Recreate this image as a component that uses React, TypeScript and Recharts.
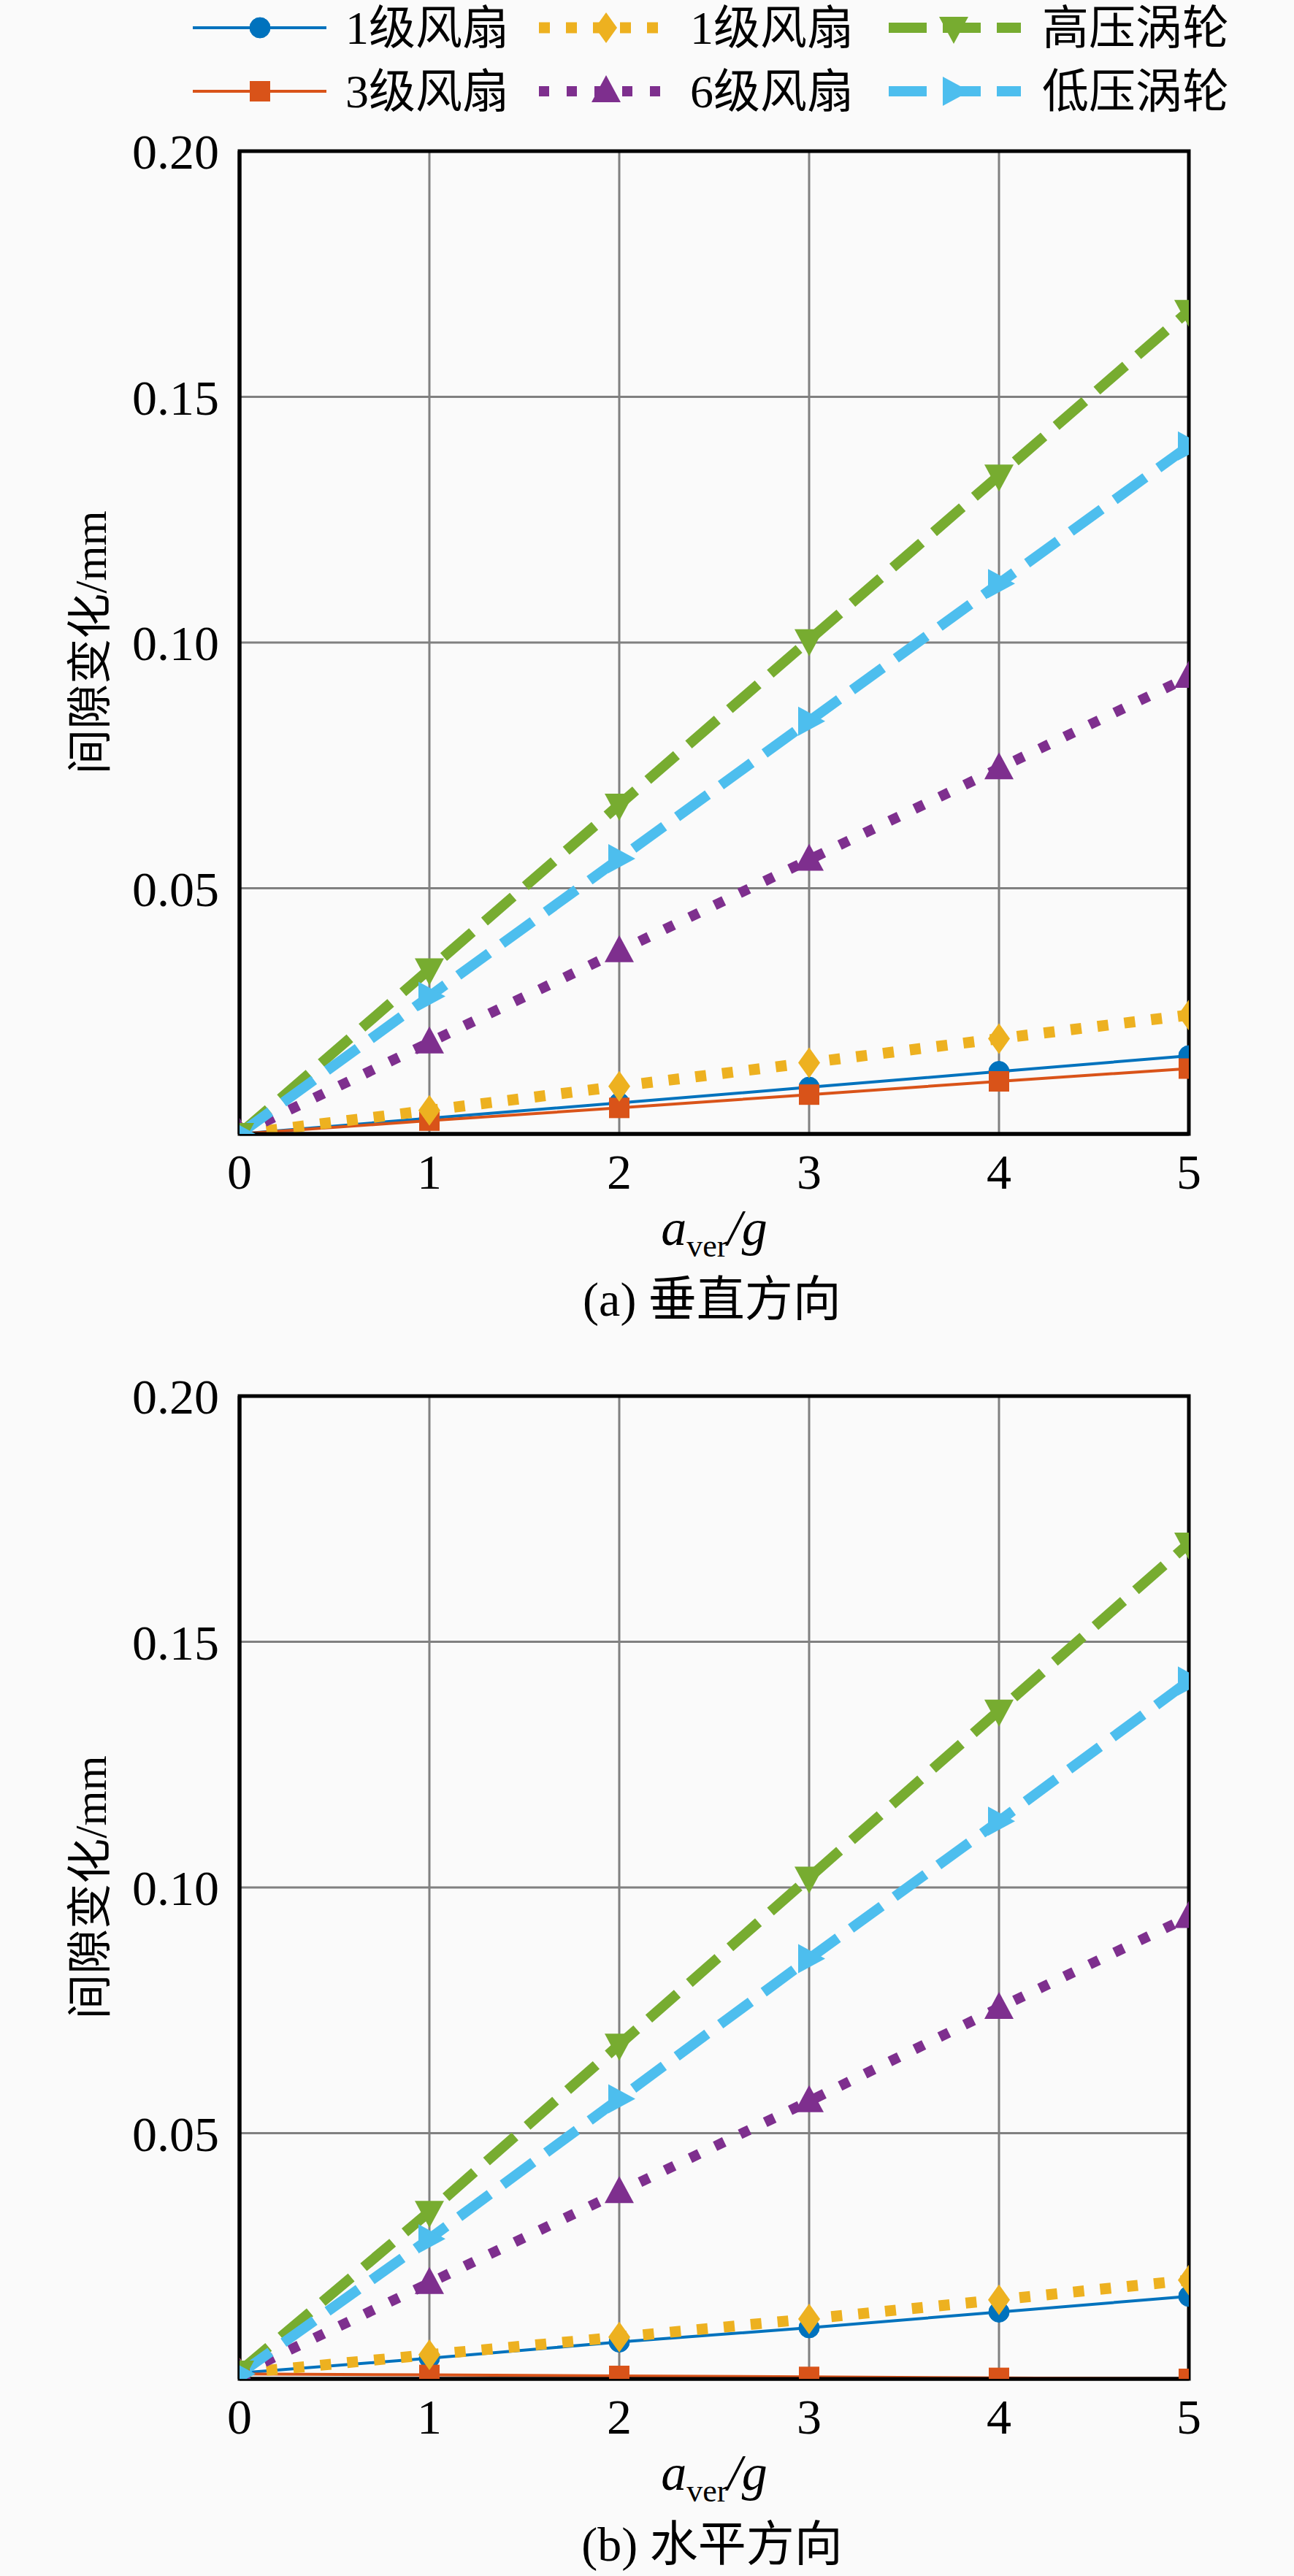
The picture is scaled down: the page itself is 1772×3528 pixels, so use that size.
import React from 'react';
import { LineChart, Line, XAxis, YAxis, CartesianGrid, ReferenceArea } from 'recharts';

// ---------- data ----------
const xValues = [0, 1, 2, 3, 4, 5];
const xTicks = [0, 1, 2, 3, 4, 5];
const yTicks = [0, 0.05, 0.1, 0.15, 0.2];

const seriesNames = ['1级风扇', '3级风扇', '1级风扇', '6级风扇', '高压涡轮', '低压涡轮'];

// (a) vertical
const vertFan1 = [0, 0.0032, 0.0063, 0.0095, 0.0127, 0.0159];
const vertFan3 = [0, 0.0027, 0.0053, 0.008, 0.0107, 0.0133];
const vertFan1b = [0, 0.0048, 0.0097, 0.0145, 0.0194, 0.0242];
const vertFan6 = [0, 0.0186, 0.0372, 0.0558, 0.0744, 0.093];
const vertHPT = [0, 0.0335, 0.067, 0.1005, 0.134, 0.1675];
const vertLPT = [0, 0.028, 0.056, 0.084, 0.112, 0.14];

// (b) horizontal
const horFan1 = [0.0012, 0.0042, 0.0075, 0.0104, 0.0136, 0.0168];
const horFan3 = [0.001, 0.0008, 0.0006, 0.0004, 0.0002, 0.0];
const horFan1b = [0.0012, 0.0049, 0.0085, 0.0122, 0.0161, 0.0201];
const horFan6 = [0.001, 0.0195, 0.038, 0.0565, 0.0755, 0.094];
const horHPT = [0.0015, 0.034, 0.068, 0.102, 0.136, 0.17];
const horLPT = [0.001, 0.0285, 0.057, 0.0855, 0.1135, 0.142];

const captionA = '(a) 垂直方向';
const captionB = '(b) 水平方向';
const yLabel = '间隙变化/mm';

// ---------- styles ----------
const FONT = '"Liberation Serif", "Times New Roman", "Noto Sans CJK SC", serif';
const BG = '#fafafa';

type Shape = 'circle' | 'square' | 'diamond' | 'up' | 'down' | 'right';

interface SeriesStyle {
  color: string;
  width: number;
  dash?: string;
  shape: Shape;
}

const styles: SeriesStyle[] = [
  { color: '#0072BD', width: 4, shape: 'circle' },
  { color: '#D95319', width: 4, shape: 'square' },
  { color: '#EDB120', width: 15, dash: '15 22', shape: 'diamond' },
  { color: '#7E2F8E', width: 14, dash: '14 24', shape: 'up' },
  { color: '#77AC30', width: 14, dash: '52 22', shape: 'down' },
  { color: '#4DBEEE', width: 14, dash: '52 22', shape: 'right' },
];

function marker(shape: Shape, cx: number, cy: number, color: string, key?: string | number) {
  switch (shape) {
    case 'circle':
      return <circle key={key} cx={cx} cy={cy} r={14} fill={color} stroke={color} />;
    case 'square':
      return <rect key={key} x={cx - 14} y={cy - 14} width={28} height={28} fill={color} />;
    case 'diamond':
      return (
        <polygon key={key} points={`${cx},${cy - 21} ${cx + 15},${cy} ${cx},${cy + 21} ${cx - 15},${cy}`} fill={color} />
      );
    case 'up':
      return (
        <polygon key={key} points={`${cx},${cy - 22} ${cx + 20},${cy + 15} ${cx - 20},${cy + 15}`} fill={color} />
      );
    case 'down':
      return (
        <polygon key={key} points={`${cx - 20},${cy - 15} ${cx + 20},${cy - 15} ${cx},${cy + 22}`} fill={color} />
      );
    case 'right':
    default:
      return (
        <polygon key={key} points={`${cx - 15},${cy - 20} ${cx + 22},${cy} ${cx - 15},${cy + 20}`} fill={color} />
      );
  }
}

const makeDot = (s: SeriesStyle) => (props: any) => {
  const { cx, cy, index } = props;
  if (cx == null || cy == null) return <g key={index} />;
  return marker(s.shape, cx, cy, s.color, index);
};

const CHART_W = 1772;
const CHART_H = 1650;
const PLOT_TOP = 207;
const PLOT_BOTTOM = 1553;
const PLOT_LEFT = 328;
const PLOT_RIGHT = 1628;
const X_AXIS_H = 60;
const Y_AXIS_W = 100;
const TICK_FS = 68;

function Panel({ series, caption }: { series: number[][]; caption: string }) {
  const rows = xValues.map((x, i) => {
    const r: any = { x };
    series.forEach((s, k) => {
      r['s' + k] = s[i];
    });
    return r;
  });
  return (
    <div style={{ position: 'relative', width: CHART_W, height: 1705 }}>
      <LineChart
        width={CHART_W}
        height={CHART_H}
        data={rows}
        margin={{
          top: PLOT_TOP,
          right: CHART_W - PLOT_RIGHT,
          left: PLOT_LEFT - Y_AXIS_W,
          bottom: CHART_H - PLOT_BOTTOM - X_AXIS_H,
        }}
      >
        <CartesianGrid stroke="#808080" strokeWidth={3} />
        <XAxis
          dataKey="x"
          type="number"
          domain={[0, 5]}
          ticks={xTicks}
          height={X_AXIS_H}
          tickLine={false}
          tickMargin={21}
          axisLine={{ stroke: '#000', strokeWidth: 5 }}
          tick={{ fontSize: TICK_FS, fontFamily: FONT, fill: '#000' }}
          allowDataOverflow
        />
        <YAxis
          type="number"
          domain={[0, 0.2]}
          ticks={yTicks}
          width={Y_AXIS_W}
          tickLine={false}
          tickMargin={22}
          axisLine={{ stroke: '#000', strokeWidth: 5 }}
          tick={{ fontSize: TICK_FS, fontFamily: FONT, fill: '#000' }}
          tickFormatter={(v: number) => (v === 0 ? '' : v.toFixed(2))}
          allowDataOverflow
        />
        <ReferenceArea x1={0} x2={5} y1={0} y2={0.2} fill="none" fillOpacity={0} stroke="#000" strokeWidth={5} />
        {series.map((_, k) => {
          const s = styles[k];
          return (
            <Line
              key={k}
              type="linear"
              dataKey={'s' + k}
              name={seriesNames[k]}
              stroke={s.color}
              strokeWidth={s.width}
              strokeDasharray={s.dash}
              strokeLinecap="butt"
              dot={makeDot(s)}
              activeDot={false}
              isAnimationActive={false}
            />
          );
        })}
      </LineChart>
      <div
        style={{
          position: 'absolute',
          left: 124,
          top: (PLOT_TOP + PLOT_BOTTOM) / 2,
          transform: 'translate(-50%, -50%) rotate(-90deg)',
          whiteSpace: 'nowrap',
          fontFamily: FONT,
          fontSize: 62,
          lineHeight: 1,
          color: '#000',
        }}
      >
        {yLabel}
      </div>
      <div
        style={{
          position: 'absolute',
          left: (PLOT_LEFT + PLOT_RIGHT) / 2,
          top: 1688,
          transform: 'translate(-50%, -50%)',
          whiteSpace: 'nowrap',
          fontFamily: FONT,
          fontSize: 70,
          lineHeight: 1,
          color: '#000',
        }}
      >
        <i>a</i>
        <sub style={{ fontSize: 44, verticalAlign: '-0.35em' }}>ver</sub>
        <i>/g</i>
      </div>
      <div
        style={{
          position: 'absolute',
          left: 975,
          top: 1780,
          transform: 'translate(-50%, -50%)',
          whiteSpace: 'nowrap',
          fontFamily: FONT,
          fontSize: 66,
          lineHeight: 1,
          color: '#000',
        }}
      >
        {caption}
      </div>
    </div>
  );
}

// legend layout: column-major like the reference (2 rows x 3 cols)
const legendCols = [
  { x0: 264, x1: 447, xm: 356, xt: 473 },
  { x0: 738, x1: 907, xm: 830, xt: 945 },
  { x0: 1217, x1: 1398, xm: 1306, xt: 1427 },
];
const legendRows = [38, 125];

function LegendBox() {
  const items = seriesNames.map((name, k) => {
    const col = legendCols[Math.floor(k / 2)];
    const y = legendRows[k % 2];
    const s = styles[k];
    return (
      <g key={k}>
        <line
          x1={col.x0}
          x2={col.x1}
          y1={y}
          y2={y}
          stroke={s.color}
          strokeWidth={s.width}
          strokeDasharray={s.dash}
        />
        {marker(s.shape, col.xm, y, s.color)}
        <text x={col.xt} y={y} dominantBaseline="central" fontSize={64} fontFamily={FONT} fill="#000">
          {name}
        </text>
      </g>
    );
  });
  return (
    <svg width={CHART_W} height={170} style={{ position: 'absolute', left: 0, top: 0 }}>
      {items}
    </svg>
  );
}

export default function App() {
  const vert = [vertFan1, vertFan3, vertFan1b, vertFan6, vertHPT, vertLPT];
  const hor = [horFan1, horFan3, horFan1b, horFan6, horHPT, horLPT];
  return (
    <div
      style={{
        position: 'relative',
        width: CHART_W,
        height: 3528,
        background: BG,
        overflow: 'hidden',
      }}
    >
      <style>{'body{margin:0;background:' + BG + ';}'}</style>
      <div style={{ position: 'absolute', left: 0, top: 0 }}>
        <Panel series={vert} caption={captionA} />
      </div>
      <div style={{ position: 'absolute', left: 0, top: 1705 }}>
        <Panel series={hor} caption={captionB} />
      </div>
      <LegendBox />
    </div>
  );
}
